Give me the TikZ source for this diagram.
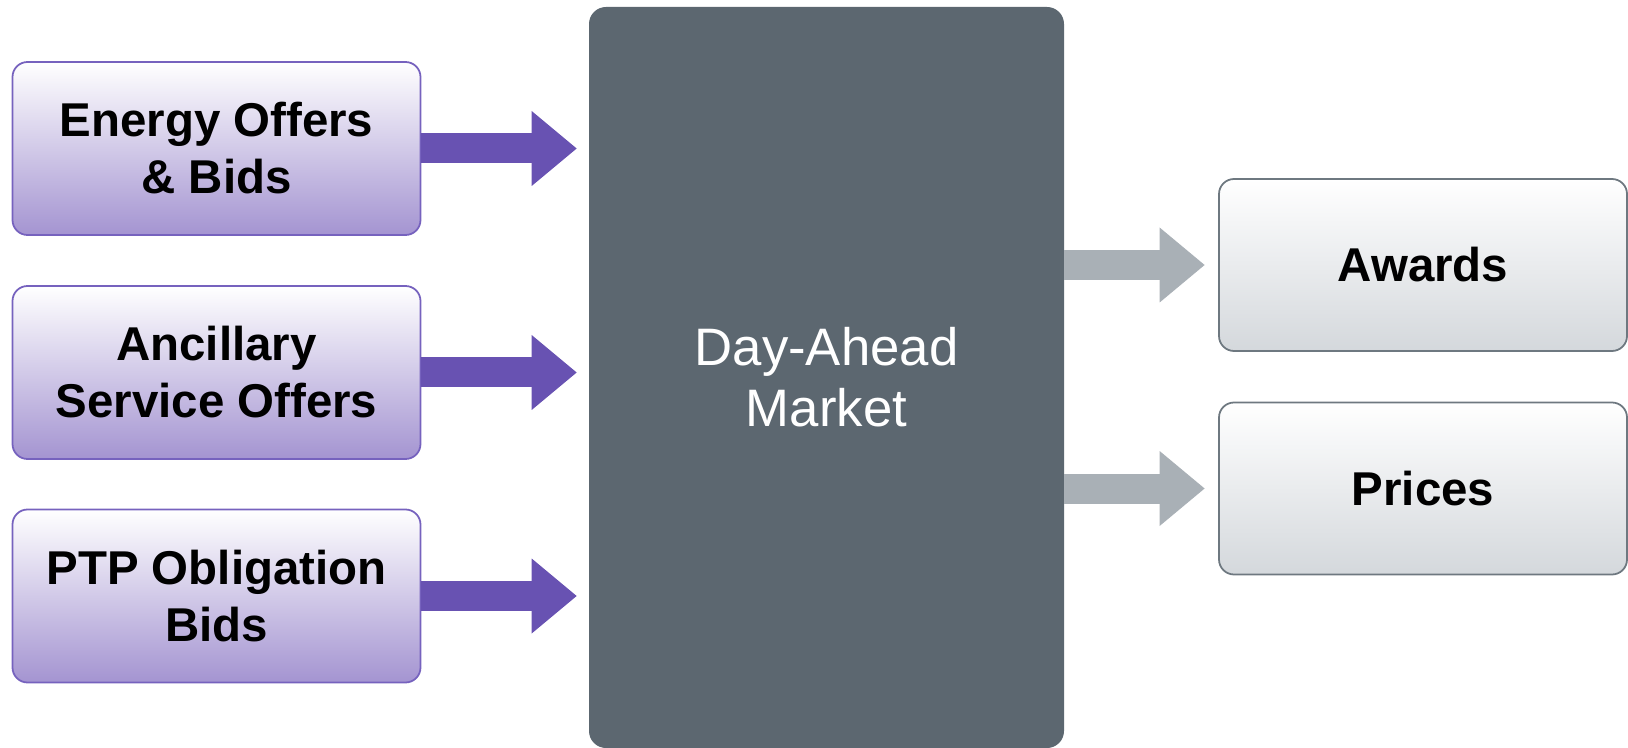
\documentclass[tikz,border=0pt]{standalone}
\usepackage{fontspec}
\setmainfont{Liberation Sans}
\usetikzlibrary{arrows.meta}

\definecolor{inborder}{RGB}{118,98,190}
\definecolor{inbottom}{RGB}{164,148,209}
\definecolor{inarrow}{RGB}{104,82,178}
\definecolor{marketgrey}{RGB}{92,103,112}
\definecolor{outborder}{RGB}{110,120,128}
\definecolor{outbottom}{RGB}{212,216,220}
\definecolor{outarrow}{RGB}{169,176,182}

\tikzset{
  inbox/.style={rectangle,rounded corners=0.3cm,draw=inborder,line width=1pt,
    top color=white,bottom color=inbottom,minimum width=8.16cm,minimum height=3.46cm,
    align=center,font=\fontsize{27}{32.4}\selectfont\bfseries},
  outbox/.style={rectangle,rounded corners=0.3cm,draw=outborder,line width=1pt,
    top color=white,bottom color=outbottom,minimum width=8.16cm,minimum height=3.44cm,
    align=center,font=\fontsize{27}{32.4}\selectfont\bfseries},
  marketbox/.style={rectangle,rounded corners=0.34cm,fill=marketgrey,
    minimum width=9.5cm,minimum height=14.82cm,text=white,
    align=center,font=\fontsize{30}{34.6}\selectfont},
  inarr/.style={draw=inarrow,line width=0.6cm,
    -{Triangle[length=0.9cm,width=1.5cm,line width=0pt]},shorten >=0.24cm},
  outarr/.style={draw=outarrow,line width=0.6cm,
    -{Triangle[length=0.9cm,width=1.5cm,line width=0pt]},shorten >=0.27cm},
}

\begin{document}
\begin{tikzpicture}
\useasboundingbox (0,0) rectangle (32.56,-14.96);

\node[marketbox] (dam) at (16.53,-7.55) {Day-Ahead\\Market};

\node[inbox] (energy) at (4.33,-2.97) {Energy Offers\\\& Bids};
\node[inbox] (ancillary) at (4.33,-7.45) {Ancillary\\Service Offers};
\node[inbox] (ptp) at (4.33,-11.92) {PTP Obligation\\Bids};

\node[outbox] (awards) at (28.46,-5.30) {Awards};
\node[outbox] (prices) at (28.46,-9.77) {Prices};

\draw[inarr] (energy.east) -- (energy.east -| dam.west);
\draw[inarr] (ancillary.east) -- (ancillary.east -| dam.west);
\draw[inarr] (ptp.east) -- (ptp.east -| dam.west);

\draw[outarr] (awards.west -| dam.east) -- (awards.west);
\draw[outarr] (prices.west -| dam.east) -- (prices.west);
\end{tikzpicture}
\end{document}
